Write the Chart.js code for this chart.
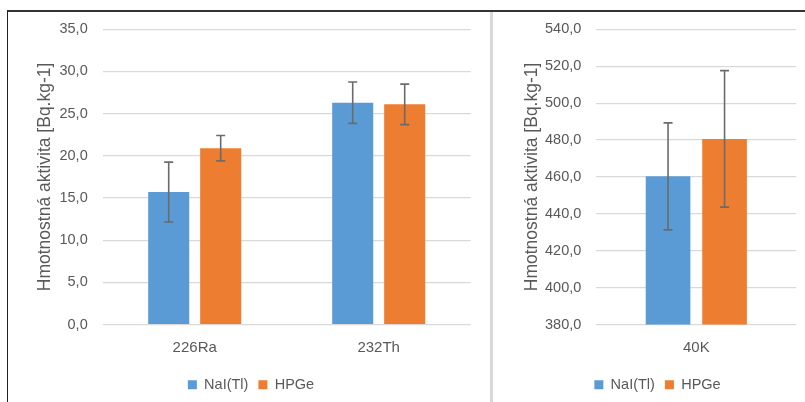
<!DOCTYPE html>
<html>
<head>
<meta charset="utf-8">
<script src="https://cdn.jsdelivr.net/npm/chart.js@4/dist/chart.umd.min.js"></script>
<style>
  html, body { margin: 0; padding: 0; background: #fff; width: 805px; height: 402px; overflow: hidden; }
  #frame { position: absolute; left: 7px; top: 10px; width: 900px; height: 500px; border-top: 2px solid #333; border-left: 1px solid #222; box-sizing: border-box; }
  #sep { position: absolute; left: 490px; top: 12px; width: 3px; height: 400px; background: #d9d9d9; }
  .box { position: absolute; top: 12px; height: 390px; }
  #leftBox { left: 8px; width: 482px; }
  #rightBox { left: 493px; width: 312px; }
</style>
</head>
<body>
<div id="frame"></div>
<div id="sep"></div>
<div class="box" id="leftBox"><canvas id="c1"></canvas></div>
<div class="box" id="rightBox"><canvas id="c2"></canvas></div>
<script>
// ---- data ----
const seriesNames = ['NaI(Tl)', 'HPGe'];
const leftCategories = ['226Ra', '232Th'];
const leftNaI = [15.7, 26.3];
const leftHPGe = [20.9, 26.1];
const leftNaIErr = [3.55, 2.45];
const leftHPGeErr = [1.5, 2.4];
const leftTickLabels = ['0,0', '5,0', '10,0', '15,0', '20,0', '25,0', '30,0', '35,0'];

const rightCategories = ['40K'];
const rightNaI = [460.3];
const rightHPGe = [480.6];
const rightNaIErr = [29.0];
const rightHPGeErr = [37.0];
const rightTickLabels = ['380,0', '400,0', '420,0', '440,0', '460,0', '480,0', '500,0', '520,0', '540,0'];

const axisTitle = 'Hmotnostná aktivita [Bq.kg-1]';
const blue = '#5B9BD5';
const orange = '#ED7D31';
const textColor = '#595959';
const FONT = "'Liberation Sans', Arial, sans-serif";

const errorBarPlugin = {
  id: 'errorBars',
  afterDatasetsDraw(chart) {
    const ctx = chart.ctx;
    const yScale = chart.scales.y;
    ctx.save();
    ctx.strokeStyle = '#6b6b6b';
    ctx.lineWidth = 1.6;
    chart.data.datasets.forEach((ds, di) => {
      const meta = chart.getDatasetMeta(di);
      meta.data.forEach((bar, i) => {
        const v = ds.data[i];
        const e = ds.errors[i];
        const yTop = yScale.getPixelForValue(v + e);
        const yBot = yScale.getPixelForValue(v - e);
        const x = bar.x;
        const cap = 4.5;
        ctx.beginPath();
        ctx.moveTo(x, yTop); ctx.lineTo(x, yBot);
        ctx.moveTo(x - cap, yTop); ctx.lineTo(x + cap, yTop);
        ctx.moveTo(x - cap, yBot); ctx.lineTo(x + cap, yBot);
        ctx.stroke();
      });
    });
    ctx.restore();
  }
};

function makeChart(id, cats, a, b, ea, eb, min, max, step, tickLabels, padLeft, padRight, yWidth) {
  return new Chart(document.getElementById(id), {
    type: 'bar',
    data: {
      labels: cats,
      datasets: [
        { label: seriesNames[0], data: a, errors: ea, backgroundColor: blue, borderColor: blue, borderWidth: 0 },
        { label: seriesNames[1], data: b, errors: eb, backgroundColor: orange, borderColor: orange, borderWidth: 0 }
      ]
    },
    options: {
      responsive: true,
      maintainAspectRatio: false,
      animation: false,
      datasets: { bar: { categoryPercentage: 0.565, barPercentage: 0.79 } },
      layout: { padding: { top: 17.3, bottom: 0, left: padLeft, right: padRight } },
      plugins: {
        tooltip: { enabled: false },
        legend: {
          position: 'bottom',
          labels: {
            boxWidth: 9, boxHeight: 9, padding: 10,
            color: textColor,
            font: { family: FONT, size: 14.5 }
          }
        }
      },
      scales: {
        x: {
          grid: { display: false, drawTicks: false },
          border: { display: false },
          ticks: { color: textColor, padding: 14, font: { family: FONT, size: 15 } },
          afterFit(s) { s.height = 43; }
        },
        y: {
          min: min, max: max,
          grid: { color: '#d9d9d9', lineWidth: 1.2, drawTicks: false },
          border: { display: false },
          ticks: {
            stepSize: step, padding: 15, color: textColor,
            font: { family: FONT, size: 14.5 },
            callback: (v, i) => tickLabels[i]
          },
          title: {
            display: true, text: axisTitle, color: textColor,
            font: { family: FONT, size: 17.5, lineHeight: 1.0 },
            padding: { top: 5, bottom: 0 }
          },
          afterFit(s) { s.width = yWidth; s.paddingTop = 0; s.paddingBottom = 0; }
        }
      }
    },
    plugins: [errorBarPlugin]
  });
}

makeChart('c1', leftCategories, leftNaI, leftHPGe, leftNaIErr, leftHPGeErr, 0, 35, 5, leftTickLabels, 23.3, 19.3, 71.4);
makeChart('c2', rightCategories, rightNaI, rightHPGe, rightNaIErr, rightHPGeErr, 380, 540, 20, rightTickLabels, 25.7, 8.7, 77.6);
</script>
</body>
</html>
